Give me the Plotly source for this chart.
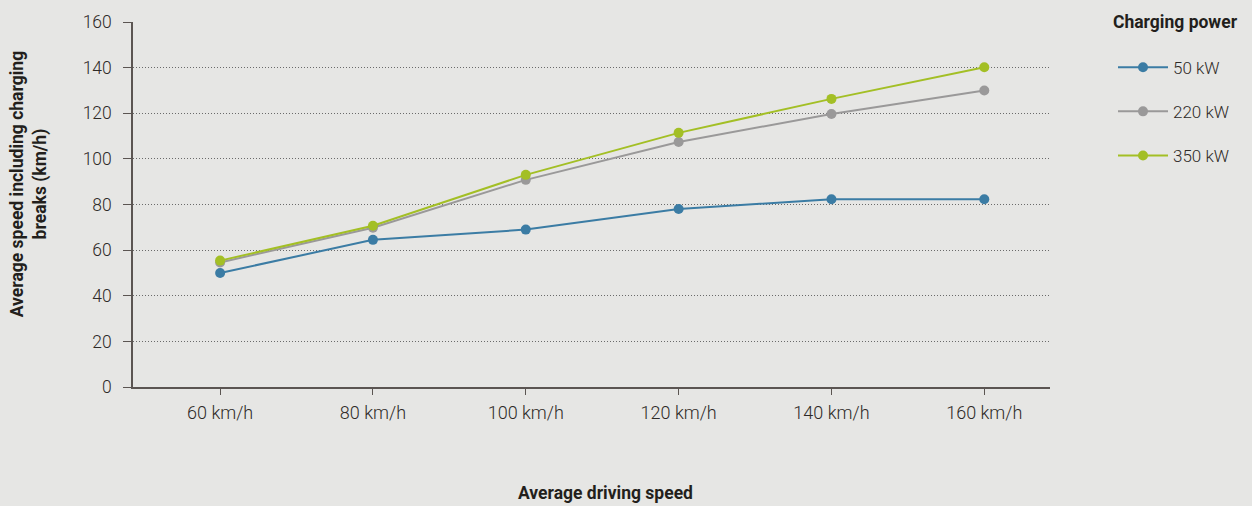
import plotly.graph_objects as go

categories = ["60 km/h", "80 km/h", "100 km/h", "120 km/h", "140 km/h", "160 km/h"]
kw50 = [50, 64.5, 69, 78, 82.3, 82.3]
kw220 = [54.6, 69.8, 90.8, 107.4, 119.7, 130]
kw350 = [55.4, 70.7, 93, 111.4, 126.3, 140.2]
series_names = ["50 kW", "220 kW", "350 kW"]
colors = ["#3b7ca4", "#9a9999", "#a3bf25"]

FONT = "Roboto"
BG = "#e6e6e4"
AX = "#5b5552"
TXT = "#2e2a27"
DARK = "#231f1c"

W, H = 1252, 506
L, R, T, B = 133, 202, 18, 119
PW, PH = W - L - R, H - T - B

def px_x(x):
    return (x - L) / PW

def px_y(y):
    return (H - B - y) / PH

fig = go.Figure()
for name, vals, col in zip(series_names, [kw50, kw220, kw350], colors):
    fig.add_trace(go.Scatter(
        x=categories, y=vals, name=name, mode="lines+markers",
        line=dict(color=col, width=2),
        marker=dict(color=col, size=10),
        legendgroup=name,
    ))

fig.update_layout(
    width=W, height=H,
    paper_bgcolor=BG, plot_bgcolor=BG,
    margin=dict(l=L, r=R, t=T, b=B),
    font=dict(family=FONT, size=17, color=TXT, weight=300),
    showlegend=True,
    legend=dict(
        x=px_x(1113), xanchor="left", y=px_y(46), yanchor="top",
        font=dict(size=17, color=TXT, weight=300),
        tracegroupgap=19,
        itemwidth=50,
        bgcolor="rgba(0,0,0,0)",
    ),
    xaxis=dict(
        type="category", range=[-0.57, 5.43],
        showline=True, linecolor=AX, linewidth=1.5,
        ticks="outside", ticklen=6, tickcolor=AX, tickwidth=1,
        showgrid=False, zeroline=False,
        ticklabelstandoff=3,
        tickfont=dict(size=18, weight=300, color=TXT),
    ),
    yaxis=dict(
        range=[0, 160], dtick=20,
        showline=True, linecolor=AX, linewidth=1.5,
        ticks="outside", ticklen=8, tickcolor=AX, tickwidth=1,
        showgrid=True, gridcolor="#6a6a6a", griddash="1px,2px", gridwidth=1,
        zeroline=False,
        ticklabelstandoff=8,
        tickfont=dict(size=17.5, weight=300, color=TXT),
    ),
    annotations=[
        dict(text="<b>Average driving speed</b>", xref="paper", yref="paper",
             x=px_x(605), y=px_y(494), xanchor="center", yanchor="middle",
             showarrow=False, font=dict(size=17.5, color=DARK, weight=700)),
        dict(text="<b>Average speed including charging<br>breaks (km/h)</b>",
             xref="paper", yref="paper", x=px_x(29), y=px_y(182),
             xanchor="center", yanchor="middle", textangle=-90,
             showarrow=False, font=dict(size=17.5, color=DARK, weight=700)),
        dict(text="<b>Charging power</b>", xref="paper", yref="paper",
             x=px_x(1240), y=px_y(18), xanchor="right", yanchor="middle",
             showarrow=False, font=dict(size=17.5, color=DARK, weight=700)),
    ],
)

fig.write_html("out.html", config={"displayModeBar": False},
               post_script="document.body.style.margin='0';")
